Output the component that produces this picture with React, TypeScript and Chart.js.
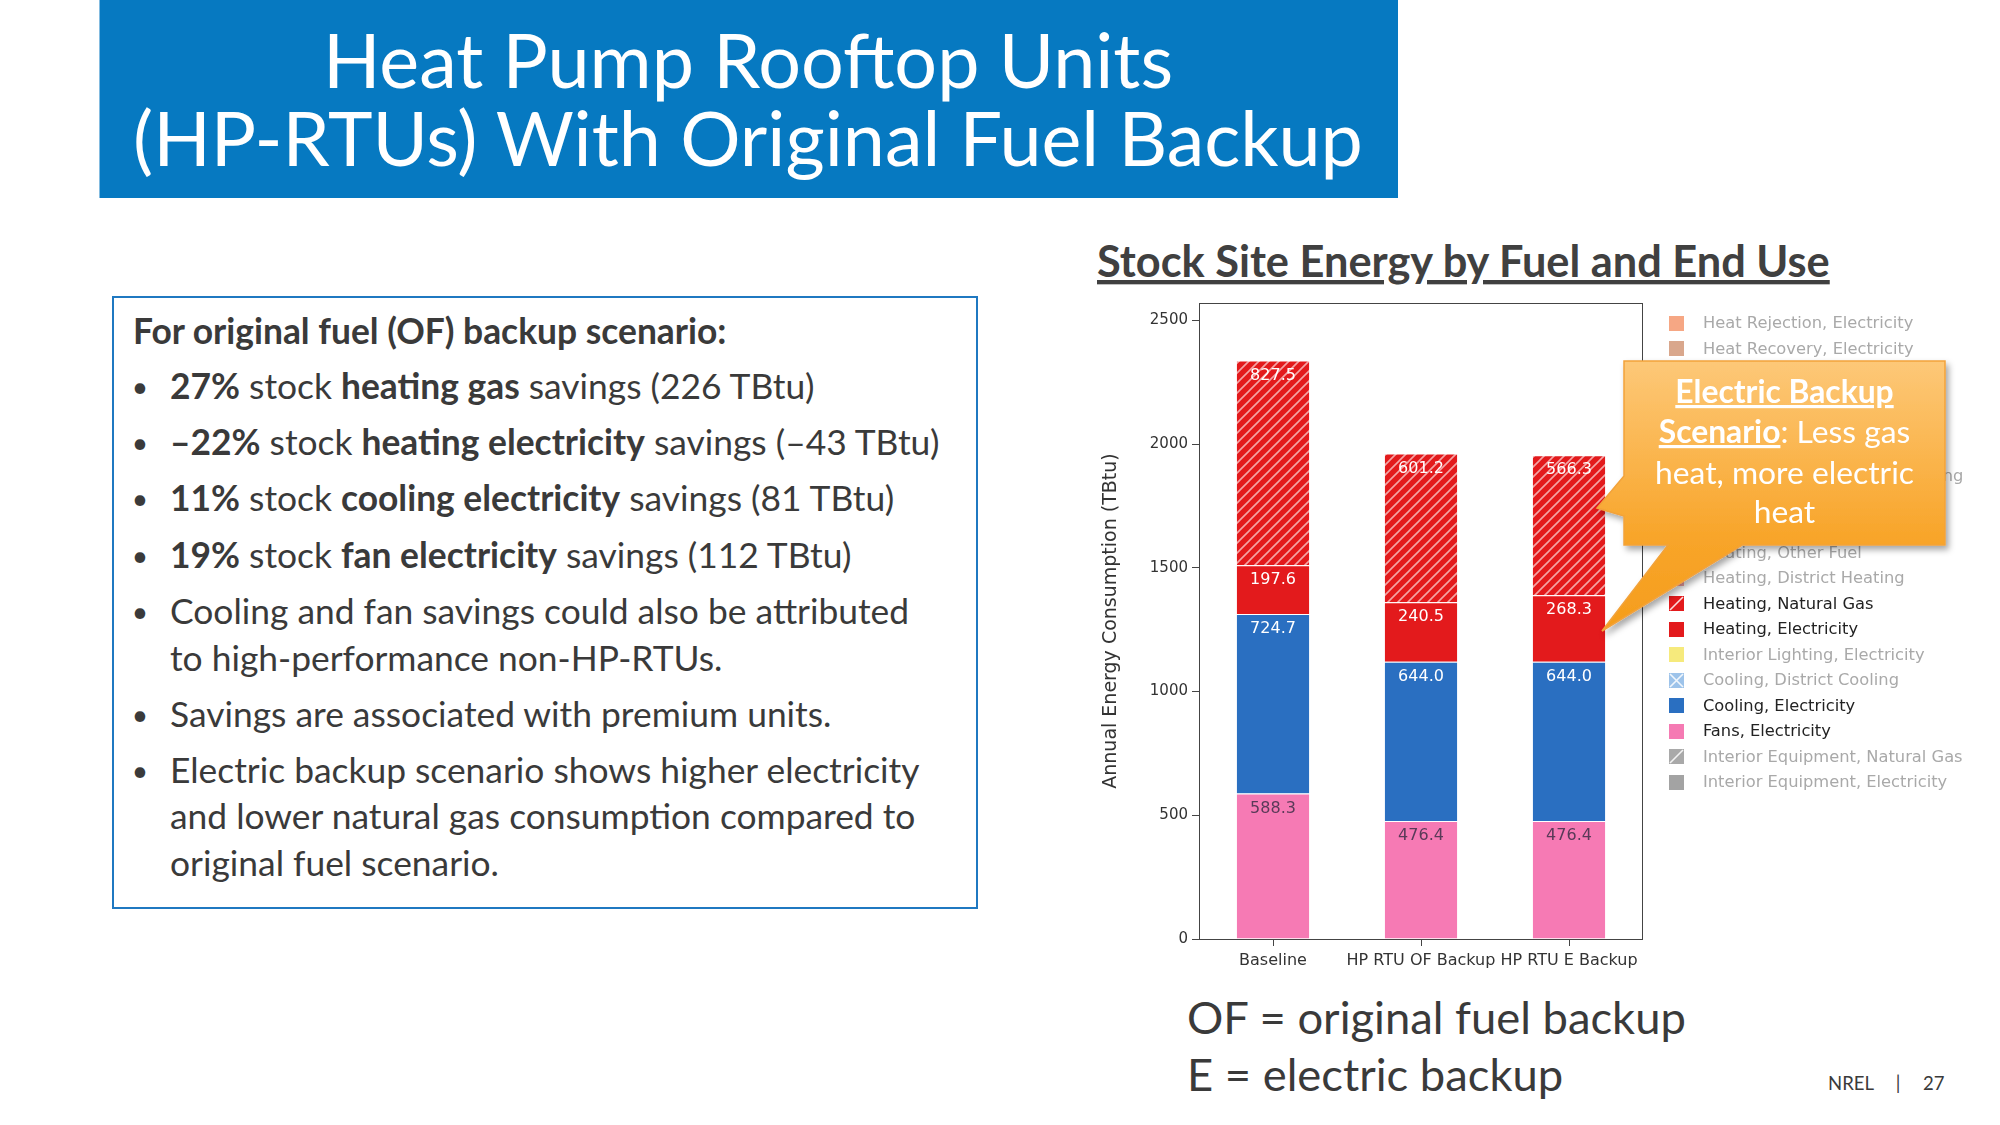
import React, { useEffect, useRef, useMemo } from "react";
import { Chart, registerables } from "chart.js";

Chart.register(...registerables);

// ---------------- data ----------------
const categories = ["Baseline", "HP RTU OF Backup", "HP RTU E Backup"];
const fansElectricity = [588.3, 476.4, 476.4];
const coolingElectricity = [724.7, 644.0, 644.0];
const heatingElectricity = [197.6, 240.5, 268.3];
const heatingNaturalGas = [827.5, 601.2, 566.3];
const yTickValues = [0, 500, 1000, 1500, 2000, 2500];
const yTickLabels = ["0", "500", "1000", "1500", "2000", "2500"];
const yAxisMax = 2570;
const yAxisTitle = "Annual Energy Consumption (TBtu)";

const legendNames = [
  "Heat Rejection, Electricity",
  "Heat Recovery, Electricity",
  "Pumps, Electricity",
  "Exterior Lighting, Electricity",
  "Refrigeration, Electricity",
  "Water Systems, Electricity",
  "Water Systems, District Heating",
  "Water Systems, Natural Gas",
  "Water Systems, Other Fuel",
  "Heating, Other Fuel",
  "Heating, District Heating",
  "Heating, Natural Gas",
  "Heating, Electricity",
  "Interior Lighting, Electricity",
  "Cooling, District Cooling",
  "Cooling, Electricity",
  "Fans, Electricity",
  "Interior Equipment, Natural Gas",
  "Interior Equipment, Electricity",
];
const legendActive = [
  false, false, false, false, false, false, false, false, false, false,
  false, true, true, false, false, true, true, false, false,
];
const legendSwatch = [
  "#f6a784", "#d9a78c", "#c9b6dc", "#f7d28a", "#9fd3c7", "#b6c3e6",
  "#c9a5d3", "#cfb8e0", "#c4c4c4", "#f4a6a6", "#f2a3a6", "#e31a1c",
  "#e31a1c", "#f6ea7c", "#9dc3ea", "#2a6fc1", "#f57ab3", "#a9a9a9", "#a3a3a3",
];
const legendMark = [
  "", "", "", "", "", "", "", "", "", "", "", "/", "", "", "x", "", "", "/", "",
];

// slide text
type Part = { t: string; b?: boolean; u?: boolean };
const titleLines = ["Heat Pump Rooftop Units", "(HP-RTUs) With Original Fuel Backup"];
const boxHeading: Part[] = [{ t: "For original fuel (OF) backup scenario:", b: true }];
const bodyLines: { bullet: boolean; parts: Part[] }[] = [
  { bullet: true, parts: [{ t: "27%", b: true }, { t: " stock " }, { t: "heating gas", b: true }, { t: " savings (226 TBtu)" }] },
  { bullet: true, parts: [{ t: "–22%", b: true }, { t: " stock " }, { t: "heating electricity", b: true }, { t: " savings (–43 TBtu)" }] },
  { bullet: true, parts: [{ t: "11%", b: true }, { t: " stock " }, { t: "cooling electricity", b: true }, { t: " savings (81 TBtu)" }] },
  { bullet: true, parts: [{ t: "19%", b: true }, { t: " stock " }, { t: "fan electricity", b: true }, { t: " savings (112 TBtu)" }] },
  { bullet: true, parts: [{ t: "Cooling and fan savings could also be attributed" }] },
  { bullet: false, parts: [{ t: "to high-performance non-HP-RTUs." }] },
  { bullet: true, parts: [{ t: "Savings are associated with premium units." }] },
  { bullet: true, parts: [{ t: "Electric backup scenario shows higher electricity" }] },
  { bullet: false, parts: [{ t: "and lower natural gas consumption compared to" }] },
  { bullet: false, parts: [{ t: "original fuel scenario." }] },
];
const chartHeading = "Stock Site Energy by Fuel and End Use";
const noteLines = ["OF = original fuel backup", "E = electric backup"];
const calloutLines: Part[][] = [
  [{ t: "Electric Backup", b: true, u: true }],
  [{ t: "Scenario", b: true, u: true }, { t: ": Less gas" }],
  [{ t: "heat, more electric" }],
  [{ t: "heat" }],
];

// ---------------- styling ----------------
const CHART_FONT = "'DejaVu Sans', Verdana, sans-serif";
const SLIDE_FONT = "Lato";
const RED = "#e31a1c";
const BLUE = "#2a6fc1";
const PINK = "#f67ab4";
const TEXT = "#3a3a3a";

function measure(parts: Part[], size: number): number {
  const c = document.createElement("canvas").getContext("2d")!;
  let w = 0;
  for (const p of parts) {
    c.font = `${p.b ? "bold " : ""}${size}px ${SLIDE_FONT}`;
    w += c.measureText(p.t).width;
  }
  return w;
}
function fit(parts: Part[], target: number): number {
  return (100 * target) / measure(parts, 100);
}

function SvgLine({ parts, x, y, size, fill, anchor }: { parts: Part[]; x: number; y: number; size: number; fill: string; anchor?: string }) {
  return (
    <text x={x} y={y} fontSize={size} fontFamily={SLIDE_FONT} fill={fill} textAnchor={anchor || "start"} style={{ whiteSpace: "pre" }}>
      {parts.map((p, i) => (
        <tspan key={i} fontWeight={p.b ? 700 : 400} textDecoration={p.u ? "underline" : undefined}>
          {p.t}
        </tspan>
      ))}
    </text>
  );
}

export default function App() {
  const ref = useRef<HTMLCanvasElement>(null);

  const sizes = useMemo(() => {
    return {
      title: fit([{ t: titleLines[1] }], 1231),
      body: fit(bodyLines[1].parts, 771),
      head: fit([{ t: chartHeading, b: true }], 735),
      note: fit([{ t: noteLines[0] }], 500),
      callout: fit(calloutLines[2], 259),
      nrel: fit([{ t: "NREL" }], 46),
    };
  }, []);

  useEffect(() => {
    const canvas = ref.current!;
    const ctx = canvas.getContext("2d")!;

    const tile = document.createElement("canvas");
    tile.width = 10;
    tile.height = 10;
    const t = tile.getContext("2d")!;
    t.fillStyle = RED;
    t.fillRect(0, 0, 10, 10);
    t.strokeStyle = "rgba(255,255,255,0.6)";
    t.lineWidth = 1.6;
    t.beginPath();
    t.moveTo(-2, 12); t.lineTo(12, -2);
    t.moveTo(-2, 2); t.lineTo(2, -2);
    t.moveTo(8, 12); t.lineTo(12, 8);
    t.stroke();
    const hatch = ctx.createPattern(tile, "repeat")!;

    const labelColors = ["#5a3a58", "#ffffff", "#ffffff", "#ffffff"];

    const valueLabels = {
      id: "valueLabels",
      afterDatasetsDraw(chart: any) {
        const c = chart.ctx;
        c.save();
        c.font = `16px ${CHART_FONT}`;
        c.textAlign = "center";
        c.textBaseline = "middle";
        chart.data.datasets.forEach((ds: any, i: number) => {
          const meta = chart.getDatasetMeta(i);
          meta.data.forEach((el: any, j: number) => {
            const v = ds.data[j] as number;
            c.fillStyle = labelColors[i];
            c.fillText(v.toFixed(1), el.x, el.y + 15);
          });
        });
        c.restore();
      },
    };

    const frameAndLegend = {
      id: "frameAndLegend",
      afterDraw(chart: any) {
        const c = chart.ctx;
        const a = chart.chartArea;
        c.save();
        c.strokeStyle = "#444";
        c.lineWidth = 1;
        c.strokeRect(Math.round(a.left) + 0.5, Math.round(a.top) + 0.5, Math.round(a.right - a.left) - 1, Math.round(a.bottom - a.top));
        // legend
        const bx = 579, tx = 613, y0 = 33, rowH = 25.5, box = 15;
        c.font = `16.3px ${CHART_FONT}`;
        c.textAlign = "left";
        c.textBaseline = "middle";
        legendNames.forEach((name, i) => {
          const cy = y0 + i * rowH;
          const top = Math.round(cy - box / 2);
          c.fillStyle = legendSwatch[i];
          c.fillRect(bx, top, box, box);
          if (legendMark[i]) {
            c.strokeStyle = "rgba(255,255,255,0.85)";
            c.lineWidth = 1.6;
            c.beginPath();
            c.moveTo(bx + 1, top + box - 1);
            c.lineTo(bx + box - 1, top + 1);
            if (legendMark[i] === "x") {
              c.moveTo(bx + 1, top + 1);
              c.lineTo(bx + box - 1, top + box - 1);
            }
            c.stroke();
          }
          c.fillStyle = legendActive[i] ? "#222222" : "#a9a9a9";
          c.fillText(name, tx, cy + 1);
        });
        c.restore();
      },
    };

    const barCommon = {
      barPercentage: 0.49,
      categoryPercentage: 1.0,
      borderColor: "#ffffff",
      borderWidth: { top: 1, right: 0, bottom: 0, left: 0 },
    };

    const chart = new Chart(canvas, {
      type: "bar",
      data: {
        labels: categories,
        datasets: [
          { label: "Fans, Electricity", data: fansElectricity, backgroundColor: PINK, ...barCommon },
          { label: "Cooling, Electricity", data: coolingElectricity, backgroundColor: BLUE, ...barCommon },
          { label: "Heating, Electricity", data: heatingElectricity, backgroundColor: RED, ...barCommon },
          { label: "Heating, Natural Gas", data: heatingNaturalGas, backgroundColor: hatch as any, ...barCommon },
        ] as any,
      },
      options: {
        responsive: false,
        animation: false,
        layout: { padding: { left: 0, right: 357, top: 12, bottom: 0 } },
        plugins: { legend: { display: false }, tooltip: { enabled: false } },
        scales: {
          x: {
            stacked: true,
            grid: { display: true, drawOnChartArea: false, drawTicks: true, tickLength: 7, offset: false, color: "#444", tickColor: "#444" },
            border: { display: false },
            ticks: { color: "#333", font: { family: CHART_FONT, size: 16 }, padding: 5, maxRotation: 0, autoSkip: false },
            afterFit: (s: any) => { s.height = 71; },
          },
          y: {
            stacked: true,
            min: 0,
            max: yAxisMax,
            afterBuildTicks: (s: any) => { s.ticks = yTickValues.map((v) => ({ value: v })); },
            grid: { display: true, drawOnChartArea: false, drawTicks: true, tickLength: 7, color: "#444", tickColor: "#444" },
            border: { display: false },
            ticks: {
              color: "#333",
              font: { family: CHART_FONT, size: 15 },
              padding: 4,
              callback: (_v: any, i: number) => yTickLabels[i],
            },
            title: { display: true, text: yAxisTitle, color: "#333", font: { family: CHART_FONT, size: 19 }, padding: { top: 10, bottom: 0 } },
            afterFit: (s: any) => { s.width = 109; },
          },
        },
      } as any,
      plugins: [valueLabels, frameAndLegend],
    });
    return () => chart.destroy();
  }, []);

  const bodyBaselines = [399, 455, 511, 568, 624, 671, 727, 783, 829, 876];
  const cx = (1624 + 1945) / 2;
  const calloutBaselines = [403, 443, 484, 523];

  return (
    <div style={{ position: "absolute", left: 0, top: 0, width: 2000, height: 1125, background: "#fff", overflow: "hidden" }}>
      <svg width={2000} height={1125} style={{ position: "absolute", left: 0, top: 0 }}>
        <rect x={99.5} y={0} width={1298.5} height={198} fill="#0679c1" />
        <SvgLine parts={[{ t: titleLines[0] }]} x={748} y={88} size={sizes.title} fill="#ffffff" anchor="middle" />
        <SvgLine parts={[{ t: titleLines[1] }]} x={748} y={166} size={sizes.title} fill="#ffffff" anchor="middle" />
        <rect x={113} y={297} width={864} height={611} fill="none" stroke="#1f78c1" strokeWidth={2} />
        <SvgLine parts={boxHeading} x={133} y={344} size={sizes.body} fill={TEXT} />
        {bodyLines.map((l, i) => (
          <g key={i}>
            {l.bullet && (
              <text x={140} y={bodyBaselines[i] - 2} fontSize={sizes.body * 0.8} fontFamily={SLIDE_FONT} fill={TEXT} textAnchor="middle">•</text>
            )}
            <SvgLine parts={l.parts} x={170} y={bodyBaselines[i]} size={sizes.body} fill={TEXT} />
          </g>
        ))}
        <SvgLine parts={[{ t: chartHeading, b: true, u: true }]} x={1097} y={277} size={sizes.head} fill="#404040" />
        <SvgLine parts={[{ t: noteLines[0] }]} x={1187} y={1034} size={sizes.note} fill={TEXT} />
        <SvgLine parts={[{ t: noteLines[1] }]} x={1187} y={1091} size={sizes.note} fill={TEXT} />
        <SvgLine parts={[{ t: "NREL" }]} x={1828} y={1090} size={sizes.nrel} fill={TEXT} />
        <SvgLine parts={[{ t: "|" }]} x={1898} y={1090} size={sizes.nrel} fill={TEXT} anchor="middle" />
        <SvgLine parts={[{ t: "27" }]} x={1923} y={1090} size={sizes.nrel} fill={TEXT} />
      </svg>
      <canvas ref={ref} width={910} height={720} style={{ position: "absolute", left: 1090, top: 290, width: 910, height: 720 }} />
      <svg width={2000} height={1125} style={{ position: "absolute", left: 0, top: 0, pointerEvents: "none" }}>
        <defs>
          <linearGradient id="cg" x1="0" y1="361" x2="0" y2="631" gradientUnits="userSpaceOnUse">
            <stop offset="0" stopColor="#fdc878" />
            <stop offset="0.65" stopColor="#f8a52a" />
            <stop offset="1" stopColor="#f59d1c" />
          </linearGradient>
          <filter id="sh" x="-10%" y="-10%" width="130%" height="130%">
            <feDropShadow dx="3" dy="4" stdDeviation="3" floodColor="#000" floodOpacity="0.35" />
          </filter>
        </defs>
        <path
          d="M1624,361 L1945,361 L1945,545 L1742,545 L1602,631 L1668,545 L1624,545 L1624,516 L1597,508 L1624,476 Z"
          fill="url(#cg)"
          stroke="#f2a23a"
          strokeWidth={1.5}
          filter="url(#sh)"
        />
        {calloutLines.map((l, i) => (
          <SvgLine key={i} parts={l} x={cx} y={calloutBaselines[i]} size={sizes.callout} fill="#ffffff" anchor="middle" />
        ))}
      </svg>
    </div>
  );
}
